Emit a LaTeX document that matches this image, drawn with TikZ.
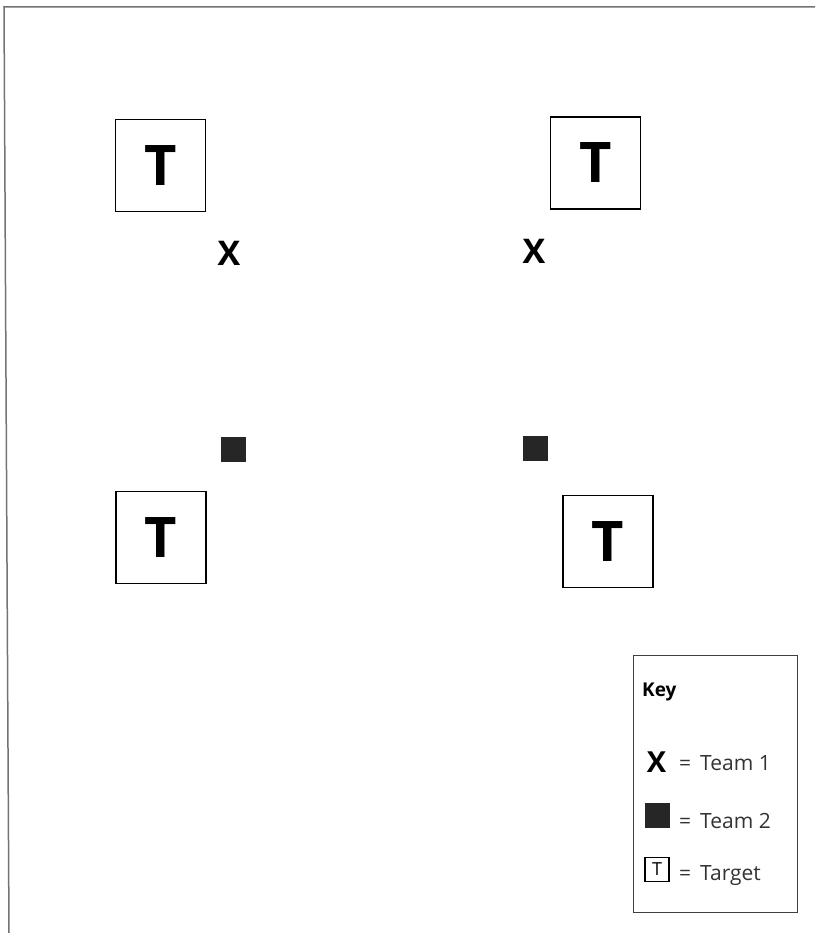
\documentclass[tikz,border=0pt]{standalone}
\usepackage{fontspec}
\setmainfont{Open Sans}
\begin{document}
\begin{tikzpicture}[x=1pt,y=-1pt,
  target/.style={draw=black,line width=1.8pt,minimum width=90pt,minimum height=92pt,inner sep=0pt,font=\bfseries\fontsize{56}{56}\selectfont},
  teamx/.style={inner sep=0pt,font=\bfseries\fontsize{34}{34}\selectfont},
  teamsq/.style={fill=black!85,minimum size=25pt,inner sep=0pt},
  keytxt/.style={anchor=west,inner sep=0pt,font=\fontsize{21}{21}\selectfont,text=black!80},
  frameline/.style={draw=black!55,line width=1.5pt}]
\useasboundingbox (0,0) rectangle (815,933);
\coordinate (ftl) at (4,7);
\coordinate (ftr) at (815,7);
\coordinate (fbl) at (9,933);
\draw[frameline] (ftr) -- (ftl) -- (fbl);
% targets
\node[target] (t1) at (160.5,165.5) {T};
\node[target] (t2) at (595.5,163) {T};
\node[target] (t3) at (161,537.5) {T};
\node[target] (t4) at (608,541.5) {T};
% team 1
\node[teamx] (x1) at (229,253) {X};
\node[teamx] (x2) at (534,251) {X};
% team 2
\node[teamsq] (s1) at (233,449) {};
\node[teamsq] (s2) at (535,448.5) {};
% key
\node[draw=black!75,line width=1pt,minimum width=164pt,minimum height=257pt,inner sep=0pt] (key) at (715,783.5) {};
\node[anchor=west,inner sep=0pt,font=\bfseries\fontsize{19}{19}\selectfont] (keyt) at (642,692) {Key};
\node[inner sep=0pt,font=\bfseries\fontsize{29}{29}\selectfont] (kx) at (656.5,762) {X};
\node[keytxt] (k1) at (679,763) {=\, Team 1};
\node[teamsq] (ks) at (657,815) {};
\node[keytxt] (k2) at (679,821) {=\, Team 2};
\node[draw=black,line width=1.6pt,minimum size=24pt,inner sep=0pt,font=\fontsize{18}{18}\selectfont] (kt) at (657,869.5) {T};
\node[keytxt] (k3) at (679,876) {=\, Target};
\end{tikzpicture}
\end{document}
